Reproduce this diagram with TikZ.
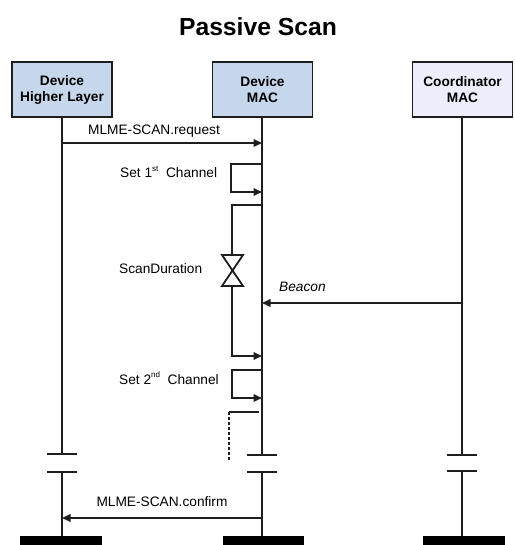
\documentclass[tikz,border=0pt]{standalone}
\usepackage{fontspec}
\setmainfont{Liberation Sans}
\usetikzlibrary{arrows.meta}
\definecolor{devfill}{HTML}{C6D6EB}
\definecolor{coordfill}{HTML}{EDEDFB}
\definecolor{edge}{HTML}{1E1E1E}
\begin{document}
\begin{tikzpicture}[x=1pt,y=-1pt,
  actor/.style={draw=edge,line width=1.5pt,minimum width=100pt,minimum height=55pt,inner sep=0pt,align=center,font=\fontsize{13.7}{16}\selectfont\bfseries},
  life/.style={draw=edge,line width=1.8pt},
  msg/.style={draw=edge,line width=1.8pt,-{Triangle[length=8.5pt,width=7.5pt]}},
  plain/.style={draw=edge,line width=1.8pt},
  brk/.style={draw=edge,line width=1.8pt},
  lbl/.style={font=\fontsize{13.7}{16}\selectfont,inner sep=0pt},
  bar/.style={fill=black,draw=none}]
\useasboundingbox (0,0) rectangle (514,545);
\node[font=\fontsize{24.7}{30}\selectfont\bfseries] (title) at (258,27) {Passive Scan};
\node[actor,fill=devfill] (hl) at (62,89.5) {Device\\Higher Layer};
\node[actor,fill=devfill] (mac) at (262.5,89.5) {Device\\MAC};
\node[actor,fill=coordfill] (co) at (462.5,89.5) {Coordinator\\MAC};
% lifeline coordinates
\coordinate (hlA) at (62,454); \coordinate (hlB) at (62,472); \coordinate (hlE) at (62,536);
\coordinate (macA) at (262,455); \coordinate (macB) at (262,472); \coordinate (macE) at (262,536);
\coordinate (coA) at (462,455); \coordinate (coB) at (462,471); \coordinate (coE) at (462,536);
\draw[life] (hl.south -| hlA) -- (hlA);
\draw[life] (hlB) -- (hlE);
\draw[life] (mac.south -| macA) -- (macA);
\draw[life] (macB) -- (macE);
\draw[life] (co.south -| coA) -- (coA);
\draw[life] (coB) -- (coE);
% break marks
\foreach \c in {hlA,hlB,macA,macB,coA,coB}{
  \draw[brk] ([xshift=-15pt]\c) -- ([xshift=15pt]\c);
}
% bars
\fill[bar] (20,536) rectangle (102,548);
\fill[bar] (223,536) rectangle (304,548);
\fill[bar] (423,536) rectangle (505,548);
% request
\coordinate (rq1) at (62,143); \coordinate (rq2) at (262,143);
\draw[msg] (rq1) -- (rq2);
\node[lbl] (rql) at (154,131) {MLME-SCAN.request};
% set 1st channel
\coordinate (s1a) at (262,164); \coordinate (s1b) at (262,192);
\draw[msg] (s1a) -- (231,164) -- (231,192) -- (s1b);
\node[lbl,anchor=west] (s1l) at (120,172) {Set 1\raisebox{0.9ex}{\fontsize{8}{8}\selectfont st}\ \ Channel};
% scan duration
\coordinate (sda) at (262,205); \coordinate (sdb) at (262,356);
\coordinate (hgt) at (232,255); \coordinate (hgb) at (232,286);
\draw[plain] (sda) -- (232,205) -- (hgt);
\draw[plain,line join=miter] (222,255) -- (243,255) -- (222,286) -- (243,286) -- cycle;
\draw[msg] (hgb) -- (232,356) -- (sdb);
\node[lbl,anchor=west] (sdl) at (119,269) {ScanDuration};
% beacon
\coordinate (bc1) at (462,303); \coordinate (bc2) at (262,303);
\draw[msg] (bc1) -- (bc2);
\node[lbl,anchor=west,font=\fontsize{13.7}{16}\selectfont\itshape] (bcl) at (279,287) {Beacon};
% set 2nd channel
\coordinate (s2a) at (262,370); \coordinate (s2b) at (262,398);
\draw[msg] (s2a) -- (232,370) -- (232,398) -- (s2b);
\node[lbl,anchor=west] (s2l) at (119,378) {Set 2\raisebox{0.9ex}{\fontsize{8}{8}\selectfont nd}\ \ Channel};
% next (dashed)
\coordinate (nx1) at (259,412); \coordinate (nx2) at (229,412); \coordinate (nx3) at (229,460);
\draw[plain] (nx1) -- (nx2);
\draw[plain,dash pattern=on 3pt off 2pt] (nx2) -- (nx3);
% confirm
\coordinate (cf1) at (262,518); \coordinate (cf2) at (62,518);
\draw[msg] (cf1) -- (cf2);
\node[lbl] (cfl) at (162,502) {MLME-SCAN.confirm};
\end{tikzpicture}
\end{document}
